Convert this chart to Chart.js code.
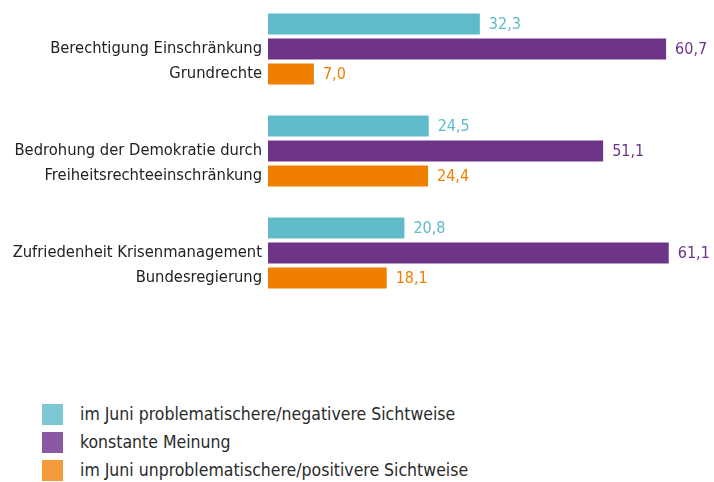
<!DOCTYPE html>
<html>
<head>
<meta charset="utf-8">
<script src="https://cdn.jsdelivr.net/npm/chart.js@4/dist/chart.umd.min.js"></script>
<style>
  body { margin: 0; background: #fff; font-family: "DejaVu Sans Condensed", "DejaVu Sans", sans-serif; }
  #wrap { position: relative; width: 714px; height: 482px; }
  #box { position: absolute; left: 0; top: -2px; width: 714px; height: 306px; }
  #legend { position: absolute; left: 42px; top: 400px; }
  .item { display: flex; align-items: center; height: 28px; font-size: 17.5px; color: #2a2a2a; }
  .sw { width: 21px; height: 21px; margin-right: 17px; }
</style>
</head>
<body>
<div id="wrap">
  <div id="box"><canvas id="barChart"></canvas></div>
  <div id="legend"></div>
</div>
<script>
const categories = [
  ["", "Berechtigung Einschränkung", "Grundrechte"],
  ["", "Bedrohung der Demokratie durch", "Freiheitsrechteeinschränkung"],
  ["", "Zufriedenheit Krisenmanagement", "Bundesregierung"],
];
const seriesNames = [
  "im Juni problematischere/negativere Sichtweise",
  "konstante Meinung",
  "im Juni unproblematischere/positivere Sichtweise",
];
const negativer = [32.3, 24.5, 20.8];
const konstant = [60.7, 51.1, 61.1];
const positiver = [7.0, 24.4, 18.1];

const barColors = ["#5fbbc9", "#6e3488", "#f07f00"];
const swatchColors = ["#7ec8d3", "#8b59a3", "#f39a3b"];
const fontFamily = '"DejaVu Sans Condensed", "DejaVu Sans", sans-serif';

// values next to each bar, in the bar colour
const valueLabels = {
  id: "valueLabels",
  afterDatasetsDraw(chart) {
    const c = chart.ctx;
    c.save();
    c.font = "16px " + fontFamily;
    c.textBaseline = "middle";
    c.textAlign = "left";
    chart.data.datasets.forEach((ds, i) => {
      chart.getDatasetMeta(i).data.forEach((bar, j) => {
        c.fillStyle = ds.backgroundColor;
        c.fillText(ds.data[j].toFixed(1).replace(".", ","), bar.x + 9, bar.y + 1);
      });
    });
    c.restore();
  },
};

const ctx = document.getElementById("barChart");

const chart = new Chart(ctx, {
  type: "bar",
  data: {
    labels: categories,
    datasets: [
      { label: seriesNames[0], data: negativer, backgroundColor: barColors[0] },
      { label: seriesNames[1], data: konstant, backgroundColor: barColors[1] },
      { label: seriesNames[2], data: positiver, backgroundColor: barColors[2] },
    ],
  },
  options: {
    indexAxis: "y",
    responsive: true,
    maintainAspectRatio: false,
    animation: false,
    categoryPercentage: 0.735,
    barPercentage: 0.84,
    layout: { padding: 0 },
    plugins: {
      legend: { display: false },
      tooltip: { enabled: false },
    },
    scales: {
      x: {
        display: false,
        min: 0,
        max: 68,
      },
      y: {
        grid: { display: false, drawTicks: false },
        border: { display: false },
        ticks: {
          color: "#222",
          padding: 6,
          font: { family: fontFamily, size: 16.4, lineHeight: "25px" },
        },
        afterFit(scale) {
          scale.width = 268;
          scale.paddingTop = 0;
          scale.paddingBottom = 0;
        },
      },
    },
  },
  plugins: [valueLabels],
});

// legend built from the datasets
const legend = document.getElementById("legend");
chart.data.datasets.forEach((ds, i) => {
  const row = document.createElement("div");
  row.className = "item";
  const sw = document.createElement("span");
  sw.className = "sw";
  sw.style.background = swatchColors[i];
  row.appendChild(sw);
  row.appendChild(document.createTextNode(ds.label));
  legend.appendChild(row);
});
</script>
</body>
</html>
